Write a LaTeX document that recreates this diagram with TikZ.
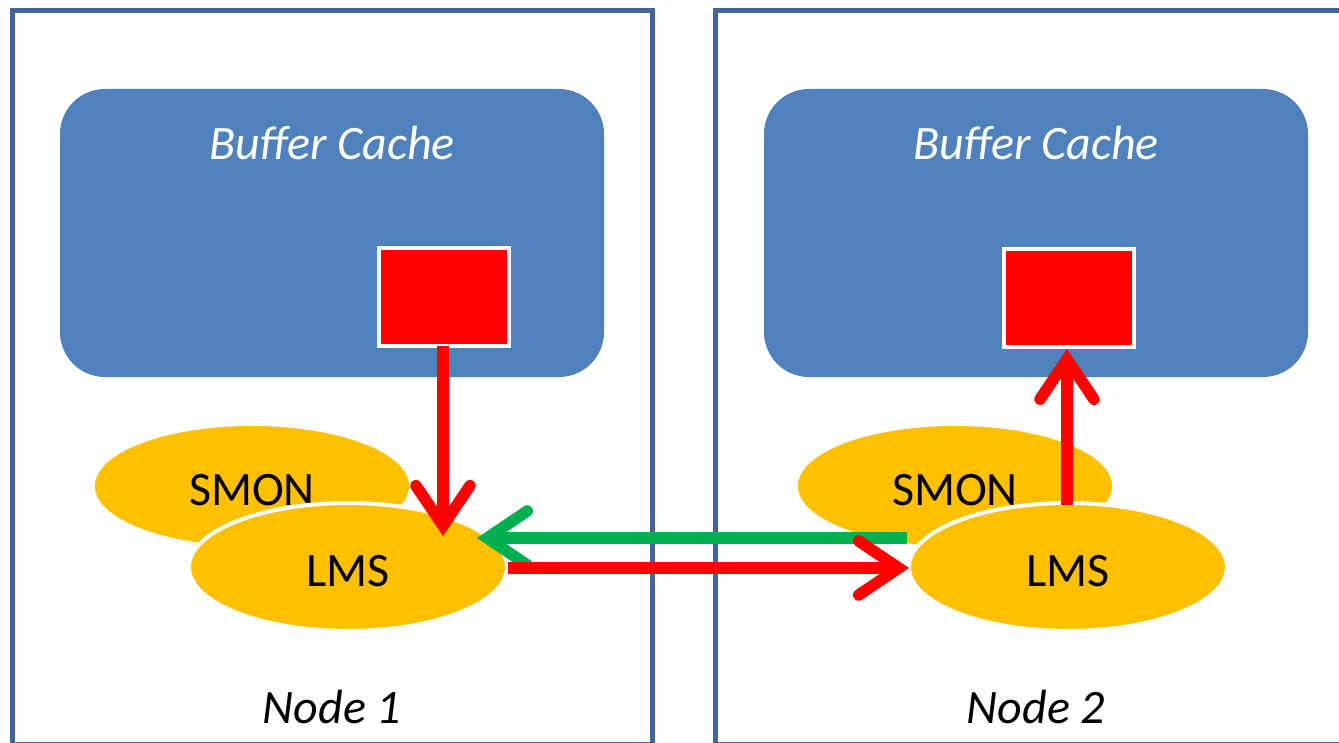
\documentclass[tikz,border=0pt]{standalone}
\usepackage{fontspec}
\setmainfont{Carlito}
\usetikzlibrary{arrows.meta,shapes.geometric}
\definecolor{frameblue}{HTML}{41679A}
\definecolor{cacheblue}{HTML}{4F81BD}
\definecolor{procyellow}{HTML}{FFC000}
\definecolor{blockred}{HTML}{FF0000}
\definecolor{msggreen}{HTML}{00B050}
\tikzset{
  nodeframe/.style={draw=frameblue, line width=5pt},
  cachebox/.style={fill=cacheblue, rounded corners=45pt},
  cachelabel/.style={text=white, font=\fontsize{48}{54}\selectfont\itshape},
  nodelabel/.style={text=black, font=\fontsize{48}{54}\selectfont\itshape},
  proc/.style={ellipse, fill=procyellow, inner sep=0pt, minimum width=314pt, minimum height=120pt},
  proclms/.style={proc, draw=white, line width=4pt, minimum width=318pt, minimum height=128pt},
  proctext/.style={text=black, font=\fontsize{48}{54}\selectfont},
  block/.style={fill=blockred, draw=white, line width=3.5pt, inner sep=0pt, minimum width=130pt, minimum height=98pt},
  msgarrow/.style={line width=11.5pt, -{Straight Barb[length=40pt,width=54pt,line cap=round,line join=miter]}},
}
\begin{document}
\begin{tikzpicture}[x=1pt,y=-1pt]
\useasboundingbox (0,0) rectangle (1339,743);
\begin{scope}
\clip (0,0) rectangle (1339,743);
% frames
\draw[nodeframe] (12,11) rectangle (652,744.5);
\draw[nodeframe] (715,11) rectangle (1360,744.5);
\end{scope}
% buffer caches
\fill[cachebox] (60,89) rectangle (604,377);
\fill[cachebox] (764,89) rectangle (1308,377);
\node[cachelabel] (bc1) at (332,143) {Buffer Cache};
\node[cachelabel] (bc2) at (1036,143) {Buffer Cache};
% red blocks
\node[block] (blk1) at (444,297) {};
\node[block] (blk2) at (1069,298) {};
% processes
\node[proc] (smon1) at (252,486) {};
\node[proctext] at (252,490) {SMON};
\node[proclms] (lms1) at (348,567) {};
\node[proctext] at (348,571) {LMS};
\node[proc] (smon2) at (955,486) {};
\node[proctext] at (955,490) {SMON};
\node[proclms] (lms2) at (1068,567) {};
\node[proctext] at (1068,571) {LMS};
% labels
\node[nodelabel] (n1) at (332,707) {Node 1};
\node[nodelabel] (n2) at (1036,707) {Node 2};
% connector end points
\coordinate (a1s) at (443,346);
\coordinate (a1e) at (443,536);
\coordinate (gs) at (907,538);
\coordinate (ge) at (477,538);
\coordinate (rs) at (508,568);
\coordinate (re) at (909,568);
\coordinate (a2s) at (1067,505);
\coordinate (a2e) at (1067,349);
% arrows
\draw[msgarrow, draw=blockred] (a1s) -- (a1e);
\draw[msgarrow, draw=msggreen] (gs) -- (ge);
\draw[msgarrow, draw=blockred] (rs) -- (re);
\draw[msgarrow, draw=blockred] (a2s) -- (a2e);
\end{tikzpicture}
\end{document}
